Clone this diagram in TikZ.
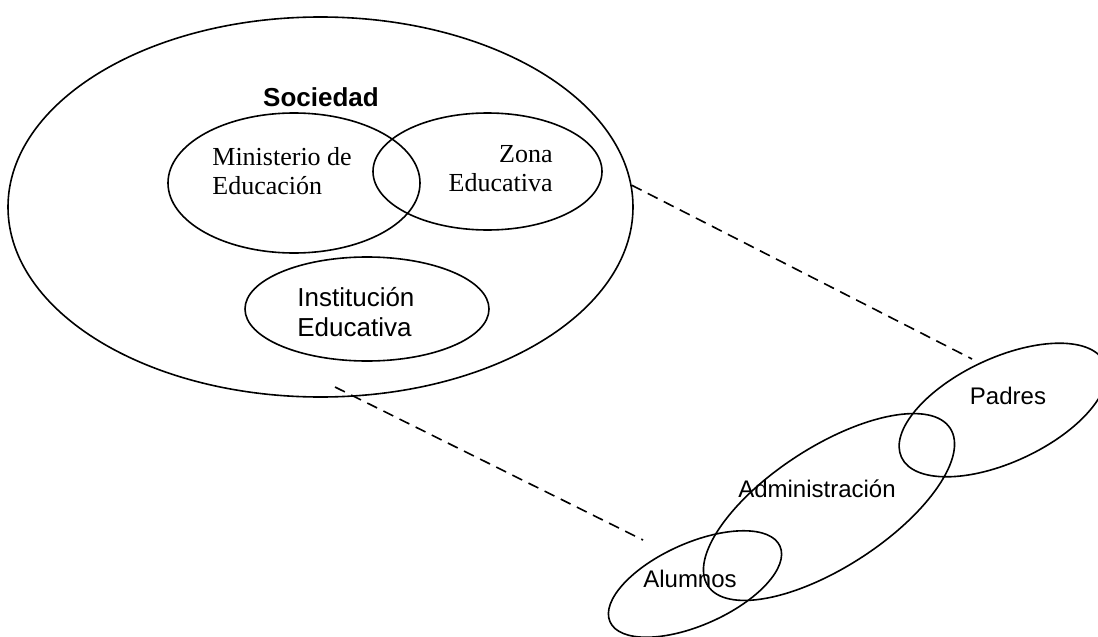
\documentclass[tikz,border=0pt]{standalone}
\usepackage{fontspec}
\setmainfont{Liberation Serif}
\setsansfont{Liberation Sans}
\usetikzlibrary{shapes.geometric}
\tikzset{
  circulo/.style={draw, ellipse, line width=0.8pt, inner sep=0pt},
  zoomline/.style={line width=0.8pt, dash pattern=on 5.5pt off 3.5pt},
  romana/.style={font=\rmfamily\fontsize{13}{14.5}\selectfont, inner sep=0pt},
  palo/.style={font=\sffamily\fontsize{13}{15}\selectfont, inner sep=0pt},
  palochico/.style={font=\sffamily\fontsize{12}{14}\selectfont, inner sep=0pt},
}
\begin{document}
\begin{tikzpicture}[x=0.5pt,y=-0.5pt]
        \useasboundingbox (0,0) rectangle (1098,637);
        % la sociedad y sus partes
        \node[circulo, minimum width=312.5pt, minimum height=190pt] (sociedad) at (320.5,207) {};
        \node[circulo, minimum width=126pt, minimum height=70pt] (ministerio) at (294,183) {};
        \node[circulo, minimum width=114.5pt, minimum height=58.5pt] (zona) at (487.5,171.5) {};
        \node[circulo, minimum width=122pt, minimum height=52pt] (institucion) at (367,309) {};
        \node[palo, font=\sffamily\bfseries\fontsize{13}{15}\selectfont, anchor=base] (tsociedad) at (321,106) {Sociedad};
        \node[romana, align=left, anchor=west] (tministerio) at (212,171) {Ministerio de\\Educación};
        \node[romana, align=right, anchor=east] (tzona) at (553,169) {Zona\\Educativa};
        \node[palo, align=left, anchor=west] (tinstitucion) at (297,312) {Institución\\Educativa};

        % la institucion por dentro
        \node[circulo, rotate=25, minimum width=112pt, minimum height=52pt] (padres) at (1003,410) {};
        \node[circulo, rotate=33, minimum width=144.5pt, minimum height=60pt] (admin) at (829,507) {};
        \node[circulo, rotate=24, minimum width=93pt, minimum height=41pt] (alumnos) at (695,584) {};
        \node[palochico, anchor=base] (tpadres) at (1008,404) {Padres};
        \node[palochico, anchor=base] (tadmin) at (817,497) {Administración};
        \node[palochico, anchor=base] (talumnos) at (690,587) {Alumnos};

        \coordinate (fin1) at (972,359);
        \coordinate (ini2) at (335,387);
        \coordinate (fin2) at (643,540);
        \draw[zoomline] (sociedad.4) -- (fin1);
        \draw[zoomline] (ini2) -- (fin2);
\end{tikzpicture}
\end{document}
